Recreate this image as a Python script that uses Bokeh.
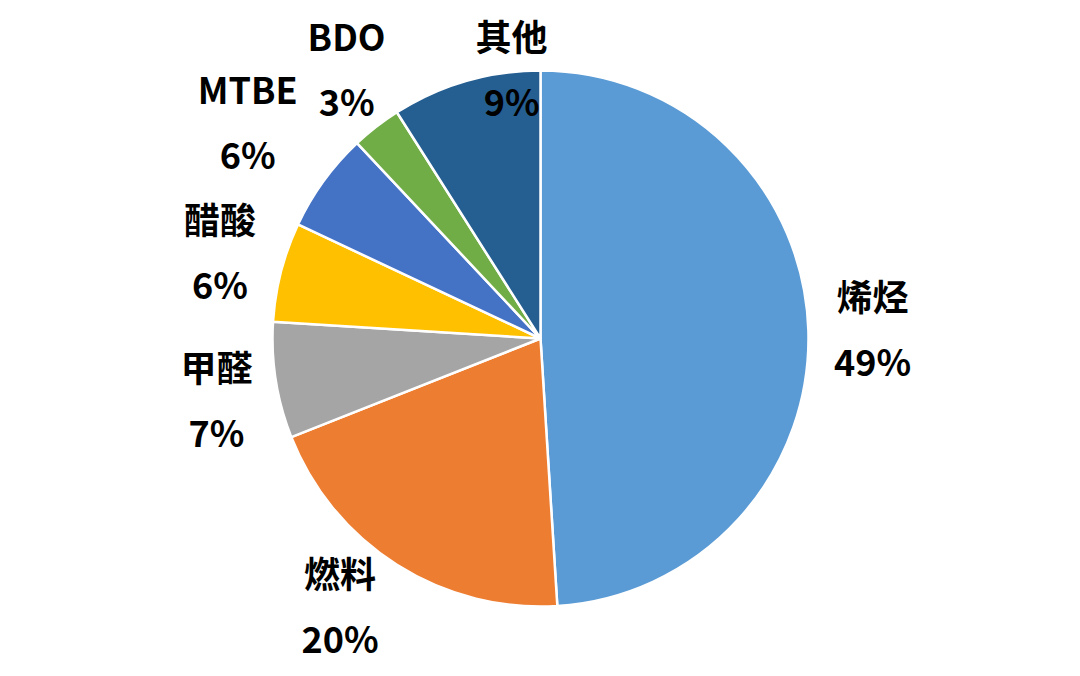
import math
from bokeh.plotting import figure
from bokeh.models import ColumnDataSource
from bokeh.core.properties import value
from bokeh.embed import file_html
from bokeh.resources import INLINE

categories = ["烯烃", "燃料", "甲醛", "醋酸", "MTBE", "BDO", "其他"]
shares = [49, 20, 7, 6, 6, 3, 9]
pct_labels = ["49%", "20%", "7%", "6%", "6%", "3%", "9%"]
colors = ["#5B9BD5", "#ED7D31", "#A5A5A5", "#FFC000", "#4472C4", "#70AD47", "#255E91"]

# label placement (style): radius factor and angular nudge in degrees (clockwise)
label_r = [1.239, 1.26, 1.234, 1.235, 1.35, 1.228, 0.998]
label_nudge = [0.8, 4.0, -2.5, 0.0, 0.0, 1.7, 10.0]

W, H = 1064, 668
R_PX = 268.0
CX, CY = 540.0, 338.0

total = float(sum(shares))
starts, ends, lx, ly = [], [], [], []
cum = 0.0
for i, s in enumerate(shares):
    a0 = cum / total
    cum += s
    a1 = cum / total
    starts.append(math.pi / 2 - 2 * math.pi * a0)
    ends.append(math.pi / 2 - 2 * math.pi * a1)
    mid_deg = 360.0 * (a0 + a1) / 2 + label_nudge[i]
    th = math.radians(mid_deg)
    lx.append(label_r[i] * math.sin(th))
    ly.append(label_r[i] * math.cos(th))

src = ColumnDataSource(dict(cat=categories, pct=pct_labels, start=starts, end=ends,
                            color=colors, lx=lx, ly=ly))

p = figure(width=W, height=H, output_backend="svg", toolbar_location=None,
           x_range=(-CX / R_PX, (W - CX) / R_PX),
           y_range=(-(H - CY) / R_PX, CY / R_PX),
           min_border=0)
p.axis.visible = False
p.grid.visible = False
p.outline_line_color = None
p.background_fill_color = "white"
p.border_fill_color = "white"

p.wedge(x=0, y=0, radius=1.0, start_angle="start", end_angle="end", direction="clock",
        fill_color="color", line_color="white", line_width=2.5, source=src)

common = dict(text_font=value("Noto Sans CJK SC"), text_font_style="bold",
              text_font_size="36px", text_color="#000000", text_align="center",
              text_baseline="middle", source=src)
p.text(x="lx", y="ly", text="cat", y_offset=-38, **common)
p.text(x="lx", y="ly", text="pct", y_offset=27, **common)

open("out.html", "w").write(file_html(p, INLINE))
